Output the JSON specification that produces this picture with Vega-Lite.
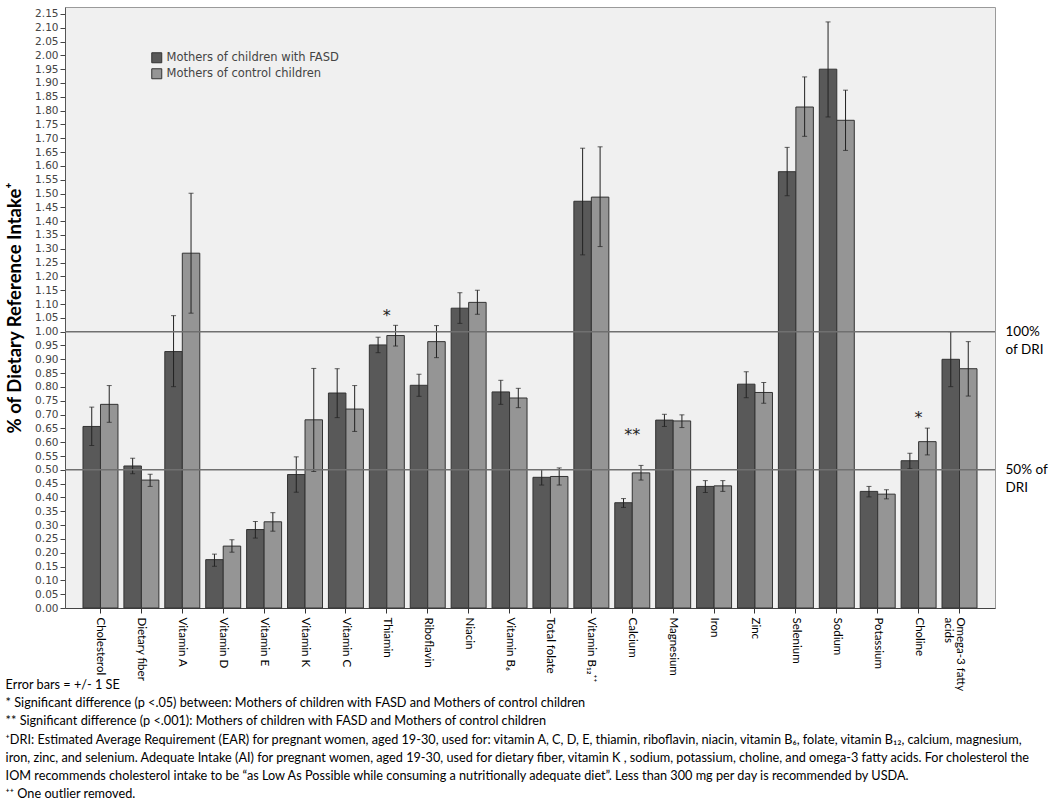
{
  "$schema": "https://vega.github.io/schema/vega-lite/v6.json",
  "width": 930,
  "height": 601,
  "padding": {"left": 5, "top": 7, "right": 2, "bottom": 0},
  "background": "white",
  "config": {
    "view": {"fill": "#f0f0f0", "stroke": "#9a9a9a"},
    "axis": {"grid": false}
  },
  "datasets": {
    "bars": [
      {"nutrient": "Cholesterol", "group": "Mothers of children with FASD", "value": 0.657, "lo": 0.588, "hi": 0.727},
      {"nutrient": "Cholesterol", "group": "Mothers of control children", "value": 0.737, "lo": 0.672, "hi": 0.805},
      {"nutrient": "Dietary fiber", "group": "Mothers of children with FASD", "value": 0.514, "lo": 0.486, "hi": 0.542},
      {"nutrient": "Dietary fiber", "group": "Mothers of control children", "value": 0.463, "lo": 0.440, "hi": 0.484},
      {"nutrient": "Vitamin A", "group": "Mothers of children with FASD", "value": 0.928, "lo": 0.801, "hi": 1.058},
      {"nutrient": "Vitamin A", "group": "Mothers of control children", "value": 1.284, "lo": 1.067, "hi": 1.501},
      {"nutrient": "Vitamin D", "group": "Mothers of children with FASD", "value": 0.175, "lo": 0.151, "hi": 0.195},
      {"nutrient": "Vitamin D", "group": "Mothers of control children", "value": 0.224, "lo": 0.202, "hi": 0.247},
      {"nutrient": "Vitamin E", "group": "Mothers of children with FASD", "value": 0.284, "lo": 0.253, "hi": 0.313},
      {"nutrient": "Vitamin E", "group": "Mothers of control children", "value": 0.312, "lo": 0.278, "hi": 0.345},
      {"nutrient": "Vitamin K", "group": "Mothers of children with FASD", "value": 0.483, "lo": 0.419, "hi": 0.547},
      {"nutrient": "Vitamin K", "group": "Mothers of control children", "value": 0.681, "lo": 0.494, "hi": 0.867},
      {"nutrient": "Vitamin C", "group": "Mothers of children with FASD", "value": 0.778, "lo": 0.689, "hi": 0.866},
      {"nutrient": "Vitamin C", "group": "Mothers of control children", "value": 0.720, "lo": 0.639, "hi": 0.805},
      {"nutrient": "Thiamin", "group": "Mothers of children with FASD", "value": 0.952, "lo": 0.924, "hi": 0.980},
      {"nutrient": "Thiamin", "group": "Mothers of control children", "value": 0.986, "lo": 0.948, "hi": 1.023},
      {"nutrient": "Riboflavin", "group": "Mothers of children with FASD", "value": 0.806, "lo": 0.766, "hi": 0.846},
      {"nutrient": "Riboflavin", "group": "Mothers of control children", "value": 0.964, "lo": 0.906, "hi": 1.022},
      {"nutrient": "Niacin", "group": "Mothers of children with FASD", "value": 1.085, "lo": 1.030, "hi": 1.141},
      {"nutrient": "Niacin", "group": "Mothers of control children", "value": 1.106, "lo": 1.063, "hi": 1.150},
      {"nutrient": "Vitamin B₆", "group": "Mothers of children with FASD", "value": 0.782, "lo": 0.737, "hi": 0.824},
      {"nutrient": "Vitamin B₆", "group": "Mothers of control children", "value": 0.760, "lo": 0.725, "hi": 0.795},
      {"nutrient": "Total folate", "group": "Mothers of children with FASD", "value": 0.473, "lo": 0.445, "hi": 0.501},
      {"nutrient": "Total folate", "group": "Mothers of control children", "value": 0.476, "lo": 0.445, "hi": 0.507},
      {"nutrient": "Vitamin B₁₂⁺⁺", "group": "Mothers of children with FASD", "value": 1.472, "lo": 1.278, "hi": 1.664},
      {"nutrient": "Vitamin B₁₂⁺⁺", "group": "Mothers of control children", "value": 1.487, "lo": 1.308, "hi": 1.669},
      {"nutrient": "Calcium", "group": "Mothers of children with FASD", "value": 0.381, "lo": 0.364, "hi": 0.396},
      {"nutrient": "Calcium", "group": "Mothers of control children", "value": 0.489, "lo": 0.463, "hi": 0.516},
      {"nutrient": "Magnesium", "group": "Mothers of children with FASD", "value": 0.680, "lo": 0.657, "hi": 0.701},
      {"nutrient": "Magnesium", "group": "Mothers of control children", "value": 0.677, "lo": 0.653, "hi": 0.699},
      {"nutrient": "Iron", "group": "Mothers of children with FASD", "value": 0.440, "lo": 0.418, "hi": 0.461},
      {"nutrient": "Iron", "group": "Mothers of control children", "value": 0.442, "lo": 0.422, "hi": 0.461},
      {"nutrient": "Zinc", "group": "Mothers of children with FASD", "value": 0.810, "lo": 0.761, "hi": 0.855},
      {"nutrient": "Zinc", "group": "Mothers of control children", "value": 0.780, "lo": 0.741, "hi": 0.816},
      {"nutrient": "Selenium", "group": "Mothers of children with FASD", "value": 1.579, "lo": 1.492, "hi": 1.667},
      {"nutrient": "Selenium", "group": "Mothers of control children", "value": 1.813, "lo": 1.707, "hi": 1.922},
      {"nutrient": "Sodium", "group": "Mothers of children with FASD", "value": 1.950, "lo": 1.777, "hi": 2.121},
      {"nutrient": "Sodium", "group": "Mothers of control children", "value": 1.765, "lo": 1.656, "hi": 1.874},
      {"nutrient": "Potassium", "group": "Mothers of children with FASD", "value": 0.422, "lo": 0.402, "hi": 0.440},
      {"nutrient": "Potassium", "group": "Mothers of control children", "value": 0.412, "lo": 0.395, "hi": 0.428},
      {"nutrient": "Choline", "group": "Mothers of children with FASD", "value": 0.533, "lo": 0.504, "hi": 0.560},
      {"nutrient": "Choline", "group": "Mothers of control children", "value": 0.602, "lo": 0.554, "hi": 0.651},
      {"nutrient": "Omega-3 fatty acids", "group": "Mothers of children with FASD", "value": 0.900, "lo": 0.801, "hi": 1.000},
      {"nutrient": "Omega-3 fatty acids", "group": "Mothers of control children", "value": 0.866, "lo": 0.767, "hi": 0.964}
    ],
    "stars": [
      {"nutrient": "Thiamin", "pos": 1.067, "sig": "*"},
      {"nutrient": "Calcium", "pos": 0.638, "sig": "**"},
      {"nutrient": "Choline", "pos": 0.699, "sig": "*"}
    ],
    "refs": [
      {"dri": 0.5},
      {"dri": 1.0}
    ]
  },
  "title": {
    "text": [
      "Error bars = +/- 1 SE",
      "* Significant difference (p <.05) between: Mothers of children with FASD and Mothers of control children",
      "** Significant difference (p <.001): Mothers of children with FASD and Mothers of control children",
      "⁺DRI: Estimated Average Requirement (EAR)  for pregnant women, aged 19-30, used for: vitamin A, C, D, E, thiamin, riboflavin, niacin, vitamin B₆, folate, vitamin B₁₂, calcium, magnesium,",
      "iron, zinc,  and selenium.  Adequate Intake (AI) for pregnant women, aged 19-30, used for dietary fiber, vitamin K , sodium, potassium, choline, and omega-3 fatty acids. For cholesterol the",
      "IOM recommends cholesterol intake to be “as Low As Possible while consuming a nutritionally adequate diet”. Less than 300 mg per day is recommended by USDA.",
      "⁺⁺ One outlier removed."
    ],
    "orient": "bottom",
    "anchor": "start",
    "frame": "bounds",
    "font": "Lato",
    "fontSize": 12.7,
    "fontWeight": "normal",
    "color": "#000",
    "lineHeight": 18.3,
    "offset": -12
  },
  "layer": [
    {
      "data": {"name": "bars"},
      "mark": {"type": "bar", "stroke": "#333", "strokeWidth": 1},
      "encoding": {
        "x": {
          "field": "nutrient", "type": "nominal",
          "sort": ["Cholesterol","Dietary fiber","Vitamin A","Vitamin D","Vitamin E","Vitamin K","Vitamin C","Thiamin","Riboflavin","Niacin","Vitamin B₆","Total folate","Vitamin B₁₂⁺⁺","Calcium","Magnesium","Iron","Zinc","Selenium","Sodium","Potassium","Choline","Omega-3 fatty acids"],
          "scale": {"paddingInner": 0.145, "paddingOuter": 0.44},
          "axis": {"title": null, "labelAngle": 90, "labelFont": "Lato", "labelFontSize": 11.5, "labelColor": "#000", "tickSize": 5, "tickColor": "#333", "domainColor": "#444", "labelPadding": 4, "labelLineHeight": 12, "labelExpr": "datum.value == 'Omega-3 fatty acids' ? ['Omega-3 fatty', 'acids'] : datum.value"}
        },
        "xOffset": {"field": "group", "type": "nominal", "sort": ["Mothers of children with FASD", "Mothers of control children"], "scale": {"paddingInner": 0, "paddingOuter": 0}},
        "y": {
          "field": "value", "type": "quantitative",
          "scale": {"domain": [0, 2.175], "nice": false, "zero": true},
          "axis": {
            "title": "% of Dietary Reference Intake⁺",
            "values": [0,0.05,0.1,0.15,0.2,0.25,0.3,0.35,0.4,0.45,0.5,0.55,0.6,0.65,0.7,0.75,0.8,0.85,0.9,0.95,1,1.05,1.1,1.15,1.2,1.25,1.3,1.35,1.4,1.45,1.5,1.55,1.6,1.65,1.7,1.75,1.8,1.85,1.9,1.95,2,2.05,2.1,2.15],
            "format": ".2f",
            "labelFont": "DejaVu Sans", "labelFontSize": 10.5, "labelColor": "#444",
            "tickSize": 5, "tickColor": "#444", "domainColor": "#555", "labelPadding": 2,
            "titleFont": "Lato", "titleFontSize": 18.5, "titleFontWeight": "bold", "titleColor": "#000", "titlePadding": 10
          }
        },
        "color": {
          "field": "group", "type": "nominal",
          "sort": ["Mothers of children with FASD", "Mothers of control children"],
          "scale": {"range": ["#595959", "#959595"]},
          "legend": {"title": null, "orient": "none", "legendX": 86, "legendY": 45, "symbolType": "square", "symbolSize": 100, "symbolStrokeColor": "#333", "symbolStrokeWidth": 1, "symbolOpacity": 1, "labelFont": "DejaVu Sans", "labelFontSize": 11.5, "labelColor": "#444", "labelLimit": 400, "rowPadding": 1, "padding": 0}
        }
      }
    },
    {
      "data": {"name": "bars"},
      "mark": {"type": "rule", "color": "#222", "strokeWidth": 1},
      "encoding": {
        "x": {"field": "nutrient", "type": "nominal", "sort": ["Cholesterol","Dietary fiber","Vitamin A","Vitamin D","Vitamin E","Vitamin K","Vitamin C","Thiamin","Riboflavin","Niacin","Vitamin B₆","Total folate","Vitamin B₁₂⁺⁺","Calcium","Magnesium","Iron","Zinc","Selenium","Sodium","Potassium","Choline","Omega-3 fatty acids"]},
        "xOffset": {"field": "group", "type": "nominal", "sort": ["Mothers of children with FASD", "Mothers of control children"]},
        "y": {"field": "lo", "type": "quantitative", "axis": null},
        "y2": {"field": "hi"}
      }
    },
    {
      "data": {"name": "bars"},
      "mark": {"type": "tick", "color": "#222", "size": 5, "thickness": 1},
      "encoding": {
        "x": {"field": "nutrient", "type": "nominal", "sort": ["Cholesterol","Dietary fiber","Vitamin A","Vitamin D","Vitamin E","Vitamin K","Vitamin C","Thiamin","Riboflavin","Niacin","Vitamin B₆","Total folate","Vitamin B₁₂⁺⁺","Calcium","Magnesium","Iron","Zinc","Selenium","Sodium","Potassium","Choline","Omega-3 fatty acids"]},
        "xOffset": {"field": "group", "type": "nominal", "sort": ["Mothers of children with FASD", "Mothers of control children"]},
        "y": {"field": "lo", "type": "quantitative", "axis": null}
      }
    },
    {
      "data": {"name": "bars"},
      "mark": {"type": "tick", "color": "#222", "size": 5, "thickness": 1},
      "encoding": {
        "x": {"field": "nutrient", "type": "nominal", "sort": ["Cholesterol","Dietary fiber","Vitamin A","Vitamin D","Vitamin E","Vitamin K","Vitamin C","Thiamin","Riboflavin","Niacin","Vitamin B₆","Total folate","Vitamin B₁₂⁺⁺","Calcium","Magnesium","Iron","Zinc","Selenium","Sodium","Potassium","Choline","Omega-3 fatty acids"]},
        "xOffset": {"field": "group", "type": "nominal", "sort": ["Mothers of children with FASD", "Mothers of control children"]},
        "y": {"field": "hi", "type": "quantitative", "axis": null}
      }
    },
    {
      "data": {"name": "stars"},
      "mark": {"type": "text", "font": "DejaVu Sans", "fontSize": 16, "color": "#222", "baseline": "middle", "dy": 3},
      "encoding": {
        "x": {"field": "nutrient", "type": "nominal", "sort": ["Cholesterol","Dietary fiber","Vitamin A","Vitamin D","Vitamin E","Vitamin K","Vitamin C","Thiamin","Riboflavin","Niacin","Vitamin B₆","Total folate","Vitamin B₁₂⁺⁺","Calcium","Magnesium","Iron","Zinc","Selenium","Sodium","Potassium","Choline","Omega-3 fatty acids"]},
        "y": {"field": "pos", "type": "quantitative", "axis": null},
        "text": {"field": "sig"}
      }
    },
    {
      "data": {"name": "refs"},
      "mark": {"type": "rule", "color": "#707070", "strokeWidth": 1.5},
      "encoding": {
        "y": {
          "field": "dri", "type": "quantitative",
          "axis": {"orient": "right", "title": null, "values": [0.5, 1], "domain": false, "ticks": false, "labelFont": "Lato", "labelFontSize": 13.5, "labelColor": "#000", "labelPadding": 10, "labelAlign": "left", "labelBaseline": "middle", "labelLineHeight": 18, "labelExpr": "datum.value == 1 ? ['100%', 'of DRI'] : ['50% of', 'DRI']"}
        }
      }
    }
  ],
  "resolve": {"axis": {"y": "independent"}}
}
